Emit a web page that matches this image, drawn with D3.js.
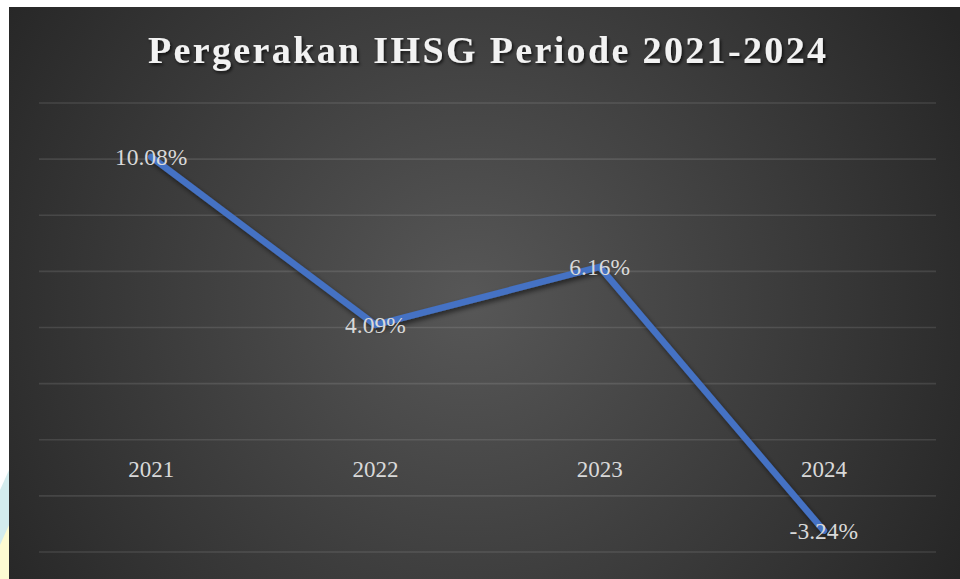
<!DOCTYPE html>
<html>
<head>
<meta charset="utf-8">
<script src="https://cdn.jsdelivr.net/npm/d3@7"></script>
<style>
  html, body { margin: 0; padding: 0; background: #fff; }
  svg { display: block; }
</style>
</head>
<body>
<svg width="960" height="579"></svg>
<script>
// données du graphique
const annees = ["2021", "2022", "2023", "2024"];
const ihsg = [10.08, 4.09, 6.16, -3.24];
const grille = [12, 10, 8, 6, 4, 2, 0, -2, -4];
const titre = "Pergerakan IHSG Periode 2021-2024";

const svg = d3.select("svg");
const width = 960, height = 579;
const police = "'Liberation Serif', 'Times New Roman', Times, serif";

const defs = svg.append("defs");
const rg = defs.append("radialGradient")
    .attr("id", "fond")
    .attr("gradientUnits", "userSpaceOnUse")
    .attr("cx", 470).attr("cy", 300).attr("r", 560);
rg.append("stop").attr("offset", "0%").attr("stop-color", "#575757");
rg.append("stop").attr("offset", "100%").attr("stop-color", "#262626");

const ombre = defs.append("filter").attr("id", "ombre")
    .attr("x", "-10%").attr("y", "-10%").attr("width", "120%").attr("height", "130%");
ombre.append("feDropShadow")
    .attr("dx", 2).attr("dy", 3).attr("stdDeviation", 2.5)
    .attr("flood-color", "#000").attr("flood-opacity", 0.55);

const ombreTitre = defs.append("filter").attr("id", "ombreTitre");
ombreTitre.append("feDropShadow")
    .attr("dx", 1.5).attr("dy", 2).attr("stdDeviation", 1.5)
    .attr("flood-color", "#000").attr("flood-opacity", 0.7);

// petit filigrane en bas à gauche (hors du graphique)
svg.append("path")
    .attr("d", "M0 490 L9 470 L9 579 L0 579 Z")
    .attr("fill", "#d3ecee");
svg.append("path")
    .attr("d", "M0 545 L9 525 L9 579 L0 579 Z")
    .attr("fill", "#fdfbd2");

// fond du graphique
svg.append("rect")
    .attr("x", 9).attr("y", 7)
    .attr("width", width - 9).attr("height", height - 7)
    .attr("fill", "url(#fond)");

// zone de tracé
const plot = {left: 39, right: 936, top: 103, bottom: 552};

const x = d3.scaleBand().domain(annees).range([plot.left, plot.right]);
const y = d3.scaleLinear().domain([-4, 12]).range([plot.bottom, plot.top]);

// lignes de grille
svg.append("g")
    .selectAll("line")
    .data(grille)
    .enter()
    .append("line")
    .attr("x1", plot.left).attr("x2", plot.right)
    .attr("y1", d => y(d)).attr("y2", d => y(d))
    .attr("stroke", "rgba(255,255,255,0.11)")
    .attr("stroke-width", 1.6);

// étiquettes des catégories, près de l'axe 0
svg.append("g")
    .selectAll("text")
    .data(annees)
    .enter()
    .append("text")
    .attr("x", d => x(d) + x.bandwidth() / 2)
    .attr("y", y(0) + 37)
    .attr("text-anchor", "middle")
    .attr("font-family", police)
    .attr("font-size", 23)
    .attr("fill", "#d9d9d9")
    .text(d => d);

// la courbe
const ligne = d3.line()
    .x((d, i) => x(annees[i]) + x.bandwidth() / 2)
    .y(d => y(d));

svg.append("path")
    .datum(ihsg)
    .attr("d", ligne)
    .attr("fill", "none")
    .attr("stroke", "#4472c4")
    .attr("stroke-width", 6.5)
    .attr("stroke-linejoin", "round")
    .attr("stroke-linecap", "round")
    .attr("filter", "url(#ombre)");

// étiquettes des valeurs
svg.append("g")
    .selectAll("text")
    .data(ihsg)
    .enter()
    .append("text")
    .attr("x", (d, i) => x(annees[i]) + x.bandwidth() / 2)
    .attr("y", d => y(d) + 8.5)
    .attr("text-anchor", "middle")
    .attr("font-family", police)
    .attr("font-size", 23.5)
    .attr("fill", "#d9d9d9")
    .text(d => d.toFixed(2) + "%");

// titre
svg.append("text")
    .attr("x", 487)
    .attr("y", 63)
    .attr("text-anchor", "middle")
    .attr("font-family", police)
    .attr("font-weight", "bold")
    .attr("font-size", 38)
    .attr("fill", "#f2f2f2")
    .attr("textLength", 678)
    .attr("lengthAdjust", "spacing")
    .attr("filter", "url(#ombreTitre)")
    .text(titre);
</script>
</body>
</html>
